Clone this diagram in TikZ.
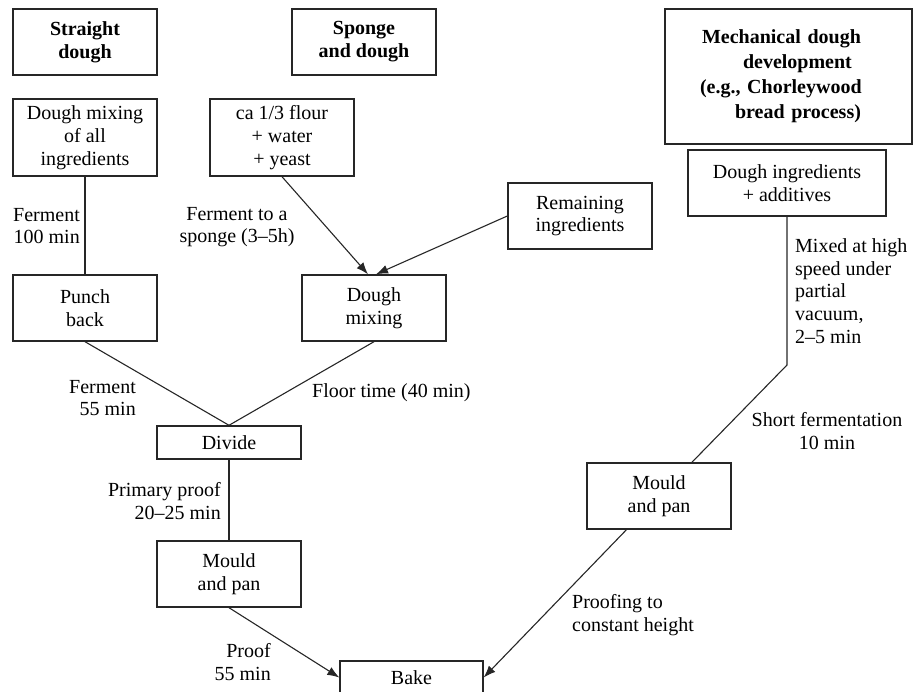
\documentclass[tikz,border=0pt]{standalone}
\usepackage{fontspec}
\setmainfont{Liberation Serif}
\usetikzlibrary{arrows.meta}
\begin{document}
\begin{tikzpicture}[x=1pt,y=-1pt,
  box/.style={draw=black!85, line width=1.4pt, fill=white, inner sep=0pt, align=center,
              font=\fontsize{20}{22.75}\selectfont},
  title/.style={box, font=\fontsize{20}{23}\selectfont\bfseries},
  lbl/.style={inner sep=0pt, font=\fontsize{20}{22.75}\selectfont},
  link/.style={draw=black!85, line width=1.1pt},
  arr/.style={link, -{Latex[length=12pt,width=9pt]}}
]
\useasboundingbox (0,0) rectangle (913,692);
\clip (0,0) rectangle (913,692);

% column headings
\node[title, minimum width=144pt, minimum height=66pt] (sd) at (85,42) {Straight\\dough};
\node[title, minimum width=144pt, minimum height=66pt] (sp) at (364,42) {Sponge\\and dough};
\node[box, font=\fontsize{20}{25}\selectfont\bfseries, text width=200pt, align=left,
      minimum width=247pt, minimum height=135pt] (mech) at (788.5,76.5)
  {\hspace*{13.5pt}Mechanical dough\\\hspace*{54.5pt}development\\\hspace*{11.5pt}(e.g., Chorleywood\\\hspace*{46.5pt}bread process)};

% process steps
\node[box, minimum width=144pt, minimum height=77pt] (mixall) at (85,137.5) {Dough mixing\\of all\\ingredients};
\node[box, minimum width=144pt, minimum height=77pt] (flour) at (282,137.5) {ca 1/3 flour\\+ water\\+ yeast};
\node[box, minimum width=198pt, minimum height=66pt] (ingr) at (787,183) {Dough ingredients\\+ additives};
\node[box, minimum width=144pt, minimum height=66pt] (rem) at (580,216) {Remaining\\ingredients};
\node[box, minimum width=144pt, minimum height=66pt] (punch) at (85,308) {Punch\\back};
\node[box, minimum width=144pt, minimum height=66pt] (dmix) at (374,308) {Dough\\mixing};
\node[box, minimum width=144pt, minimum height=33pt] (divide) at (229,442.5) {Divide};
\node[box, minimum width=144pt, minimum height=66pt] (mould1) at (229,574) {Mould\\and pan};
\node[box, minimum width=144pt, minimum height=66pt] (mould2) at (659,496) {Mould\\and pan};
\node[box, minimum width=143pt, minimum height=33pt] (bake) at (411.5,677.5) {Bake};
\coordinate (bend) at (787,365);

% connectors
\draw[link] (mixall.south) -- (punch.north);
\draw[arr] (flour.south) -- ([xshift=-6pt]dmix.north);
\draw[arr] (rem.west) -- ([xshift=2pt]dmix.north);
\draw[link] (punch.south) -- (divide.north);
\draw[link] (dmix.south) -- (divide.north);
\draw[link] (divide.south) -- (mould1.north);
\draw[arr] (mould1.south) -- (bake.west);
\draw[link] (ingr.south) -- (bend) -- (mould2);
\draw[arr] (mould2) -- (bake.east);

% step labels
\node[lbl, align=right, anchor=east] (l1) at (80,226) {Ferment\\100 min};
\node[lbl, align=center] (l2) at (237,227) {Ferment to a\\sponge (3--5h)};
\node[lbl, align=right, anchor=east] (l3) at (136,398) {Ferment\\55 min};
\node[lbl, anchor=west] (l4) at (312,393) {Floor time (40 min)};
\node[lbl, align=right, anchor=east] (l5) at (221,501) {Primary proof\\20--25 min};
\node[lbl, align=right, anchor=east] (l6) at (271,662) {Proof\\55 min};
\node[lbl, align=left, anchor=west] (l7) at (572,615) {Proofing to\\constant height};
\node[lbl, align=left, anchor=west] (l8) at (795,291) {Mixed at high\\speed under\\partial\\vacuum,\\2--5 min};
\node[lbl, align=center] (l9) at (827,431) {Short fermentation\\10 min};
\end{tikzpicture}
\end{document}
